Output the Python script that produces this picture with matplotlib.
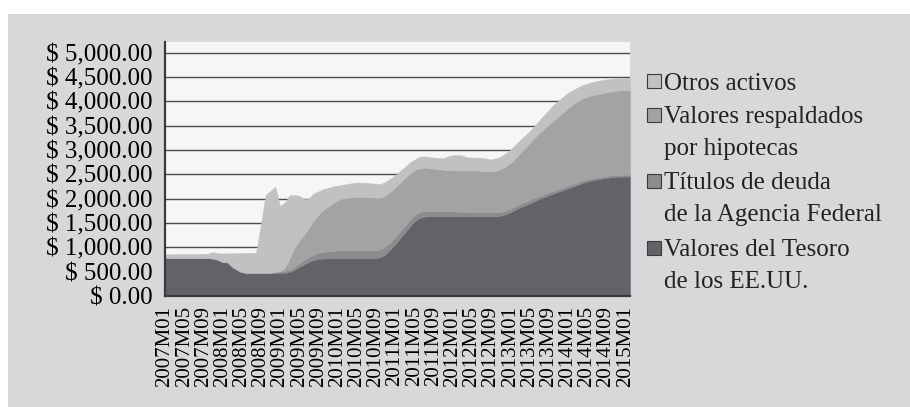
import numpy as np
import matplotlib.pyplot as plt
from matplotlib.patches import Rectangle

plt.rcParams['font.family'] = ['Liberation Serif', 'DejaVu Serif']

# monthly categories 2007M01 .. 2015M02
months = ['%dM%02d' % (2007 + k // 12, k % 12 + 1) for k in range(98)]

# billions of dollars
tesoro = [780, 780, 780, 782, 785, 785, 785, 782, 780, 778,
          770, 745, 700, 690, 600, 540, 490, 478, 478, 477,
          476, 476, 476, 476, 476, 476, 490, 540, 600, 650,
          700, 740, 765, 770, 775, 775, 775, 775, 775, 775,
          775, 775, 775, 775, 775, 800, 860, 960, 1060, 1180,
          1300, 1420, 1530, 1600, 1630, 1640, 1640, 1640, 1640, 1640,
          1640, 1640, 1640, 1640, 1640, 1640, 1640, 1640, 1640, 1640,
          1650, 1680, 1720, 1770, 1820, 1860, 1900, 1945, 1990, 2030,
          2070, 2105, 2140, 2175, 2210, 2245, 2280, 2320, 2350, 2375,
          2395, 2410, 2425, 2440, 2448, 2452, 2455, 2455]
agencia = [0, 0, 0, 0, 0, 0, 0, 0, 0, 0,
           0, 0, 0, 0, 0, 0, 0, 0, 0, 0,
           0, 0, 0, 20, 30, 40, 50, 65, 75, 90,
           100, 110, 125, 135, 145, 155, 160, 165, 165, 165,
           165, 165, 165, 165, 165, 160, 155, 150, 145, 140,
           135, 130, 125, 120, 115, 110, 108, 105, 103, 100,
           98, 95, 92, 90, 88, 86, 84, 82, 80, 78,
           76, 74, 72, 70, 68, 66, 64, 62, 60, 58,
           57, 56, 55, 54, 52, 50, 48, 46, 44, 43,
           42, 41, 40, 39, 38, 37, 36, 36]
hipotecas = [0, 0, 0, 0, 0, 0, 0, 0, 0, 0,
             0, 0, 0, 0, 0, 0, 0, 0, 0, 0,
             0, 0, 0, 0, 0, 70, 240, 390, 460, 520,
             600, 700, 780, 860, 920, 980, 1030, 1060, 1080, 1095,
             1100, 1100, 1095, 1090, 1080, 1065, 1050, 1035, 1025, 1010,
             985, 955, 930, 905, 895, 885, 870, 860, 855, 850,
             850, 850, 855, 855, 855, 852, 850, 845, 845, 855,
             880, 905, 935, 985, 1040, 1100, 1170, 1235, 1290, 1340,
             1390, 1440, 1490, 1540, 1600, 1640, 1670, 1690, 1700, 1705,
             1708, 1710, 1715, 1725, 1730, 1735, 1740, 1742]
otros = [80, 78, 80, 83, 77, 75, 77, 83, 88, 92,
         135, 135, 175, 185, 280, 342, 395, 407, 410, 413,
         1004, 1604, 1684, 1754, 1344, 1334, 1290, 1080, 925, 735,
         600, 560, 480, 435, 380, 340, 305, 285, 280, 285,
         290, 290, 290, 285, 290, 275, 285, 265, 250, 240,
         230, 235, 215, 235, 230, 225, 227, 235, 232, 280,
         307, 315, 303, 265, 262, 267, 266, 258, 240, 257,
         259, 271, 273, 275, 272, 264, 246, 248, 260, 282,
         303, 324, 325, 321, 308, 295, 282, 274, 271, 272,
         270, 274, 270, 258, 254, 251, 247, 247]

legend_labels = ['Otros activos',
                 'Valores respaldados\npor hipotecas',
                 'Títulos de deuda\nde la Agencia Federal',
                 'Valores del Tesoro\nde los EE.UU.']
colors = ['#626367', '#8c8c8e', '#a3a3a5', '#c1c1c3']  # bottom -> top
yticks = np.arange(0, 5001, 500)

W, H = 910, 407
fig = plt.figure(figsize=(W / 100, H / 100), dpi=100, facecolor='white')
fig.add_artist(Rectangle((8 / W, 0), 1, (H - 14) / H, transform=fig.transFigure,
                         facecolor='#d7d8da', edgecolor='none', zorder=-10))

ax = fig.add_axes([165 / W, 111 / H, 465 / W, 254 / H])
ax.set_facecolor('#f6f6f6')
x = np.arange(len(months))
ax.stackplot(x, tesoro, agencia, hipotecas, otros, colors=colors,
             edgecolor='face', linewidth=0.3)
ax.set_xlim(0, len(months) - 1)
ax.set_ylim(0, 5220)
ax.set_yticks(yticks)
ax.set_yticklabels(['$ {:,.2f}'.format(v) for v in yticks], fontsize=18)
ax.set_xticks(x[::4])
ax.set_xticklabels(months[::4], rotation=90, fontsize=15)
ax.tick_params(axis='y', length=0, pad=9)
ax.tick_params(axis='x', length=0, pad=7)
ax.grid(axis='y', color='#4c4c4c', linewidth=1.0)
ax.set_axisbelow(True)
for side in ('top', 'right'):
    ax.spines[side].set_visible(False)
for side in ('left', 'bottom'):
    ax.spines[side].set_color('#3a3a3a')
    ax.spines[side].set_linewidth(1.6)

# legend, drawn by hand so the swatch sits at the first line
leg_colors = colors[::-1]
first_line = [81, 115, 181, 248]
for lab, col, yc in zip(legend_labels, leg_colors, first_line):
    fig.add_artist(Rectangle((647 / W, 1 - (yc + 7) / H), 14 / W, 14 / H,
                             transform=fig.transFigure, facecolor=col,
                             edgecolor='#3a3a3a', linewidth=0.8))
    for k, line in enumerate(lab.split('\n')):
        fig.text(664 / W, 1 - (yc + 31 * k) / H, line, fontsize=18,
                 ha='left', va='center_baseline', color='#222222')

fig.savefig('out.png', dpi=100, facecolor=fig.get_facecolor())
